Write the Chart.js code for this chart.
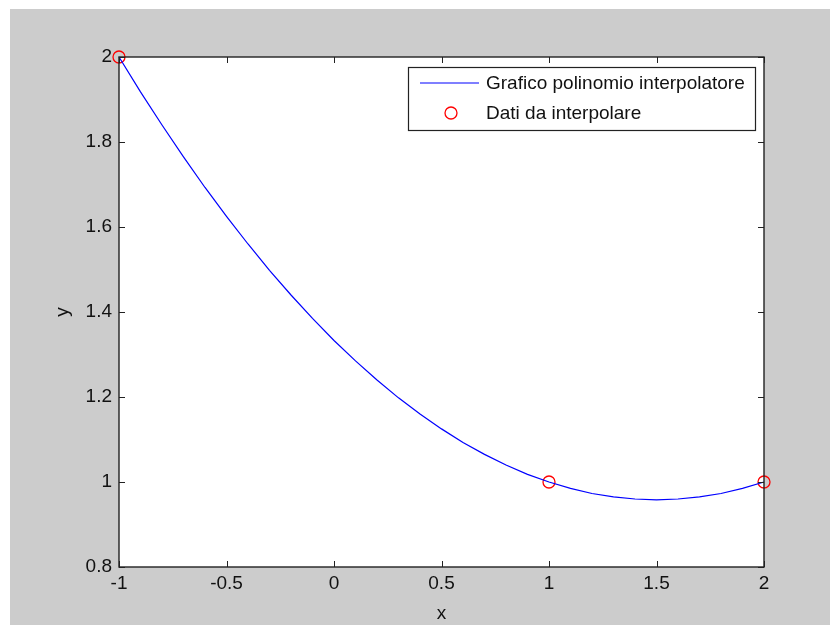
<!DOCTYPE html>
<html>
<head>
<meta charset="utf-8">
<script src="https://cdn.jsdelivr.net/npm/chart.js@4"></script>
<style>
  html, body { margin: 0; padding: 0; background: #ffffff; }
  #wrap { width: 830px; height: 625px; }
</style>
</head>
<body>
<div id="wrap"><canvas id="plot" width="830" height="625"></canvas></div>
<script>
'use strict';

// Curve of the interpolating polynomial
const curveX = [-1, -0.9, -0.8, -0.7, -0.6, -0.5, -0.4, -0.3, -0.2, -0.1, 0,
  0.1, 0.2, 0.3, 0.4, 0.5, 0.6, 0.7, 0.8, 0.9, 1,
  1.1, 1.2, 1.3, 1.4, 1.5, 1.6, 1.7, 1.8, 1.9, 2];
const curveY = [2, 1.918, 1.84, 1.765, 1.693, 1.625, 1.56, 1.498, 1.44, 1.385, 1.333,
  1.285, 1.24, 1.198, 1.16, 1.125, 1.093, 1.065, 1.04, 1.018, 1,
  0.985, 0.973, 0.965, 0.96, 0.958, 0.96, 0.965, 0.973, 0.985, 1];

// Points to interpolate
const dataX = [-1, 1, 2];
const dataY = [2, 1, 1];

// Axis ticks
const xTicks = [-1, -0.5, 0, 0.5, 1, 1.5, 2];
const yTicks = [0.8, 1, 1.2, 1.4, 1.6, 1.8, 2];

const labels = ['Grafico polinomio interpolatore', 'Dati da interpolare'];

const fontFamily = '"Liberation Sans", Arial, Helvetica, sans-serif';
const fontSize = 19;
const textColor = '#111111';
const boxColor = '#222222';

function fmt(v) {
  return String(Number(v.toFixed(2)));
}

// gray figure background and white axes area
const backgroundPlugin = {
  id: 'background',
  beforeDraw(chart) {
    const ctx = chart.ctx;
    const a = chart.chartArea;
    ctx.save();
    ctx.fillStyle = '#cccccc';
    ctx.fillRect(10, 9, 820, 616);
    ctx.fillStyle = '#ffffff';
    ctx.fillRect(a.left, a.top, a.right - a.left, a.bottom - a.top);
    ctx.restore();
  }
};

// box round the axes and inward ticks on all four sides
const boxPlugin = {
  id: 'box',
  afterDatasetsDraw(chart) {
    const ctx = chart.ctx;
    const a = chart.chartArea;
    const xs = chart.scales.x;
    const ys = chart.scales.y;
    const len = 6;
    ctx.save();
    ctx.strokeStyle = boxColor;
    ctx.lineWidth = 1;
    ctx.beginPath();
    xTicks.forEach(v => {
      const px = Math.round(xs.getPixelForValue(v)) + 0.5;
      ctx.moveTo(px, a.bottom);
      ctx.lineTo(px, a.bottom - len);
      ctx.moveTo(px, a.top);
      ctx.lineTo(px, a.top + len);
    });
    yTicks.forEach(v => {
      const py = Math.round(ys.getPixelForValue(v)) + 0.5;
      ctx.moveTo(a.left, py);
      ctx.lineTo(a.left + len, py);
      ctx.moveTo(a.right, py);
      ctx.lineTo(a.right - len, py);
    });
    ctx.stroke();
    ctx.lineWidth = 1.4;
    ctx.strokeRect(a.left, a.top, a.right - a.left, a.bottom - a.top);
    ctx.restore();
  },
  afterDraw(chart) {
    // legend box in the upper right corner
    const ctx = chart.ctx;
    const a = chart.chartArea;
    const ds = chart.data.datasets;
    const w = 347, h = 63;
    const lx = a.right - 9 - w;
    const ly = a.top + 10;
    ctx.save();
    ctx.fillStyle = '#ffffff';
    ctx.fillRect(lx, ly, w, h);
    ctx.strokeStyle = boxColor;
    ctx.lineWidth = 1.2;
    ctx.strokeRect(lx + 0.5, ly + 0.5, w, h);

    const row1 = ly + 16, row2 = ly + 46;
    ctx.strokeStyle = ds[0].borderColor;
    ctx.lineWidth = 1.2;
    ctx.beginPath();
    ctx.moveTo(lx + 12, row1);
    ctx.lineTo(lx + 71, row1);
    ctx.stroke();

    ctx.strokeStyle = ds[1].borderColor;
    ctx.lineWidth = ds[1].borderWidth;
    ctx.beginPath();
    ctx.arc(lx + 43, row2, ds[1].pointRadius, 0, Math.PI * 2);
    ctx.stroke();

    ctx.fillStyle = textColor;
    ctx.font = fontSize + 'px ' + fontFamily;
    ctx.textBaseline = 'middle';
    ctx.fillText(ds[0].label, lx + 78, row1 + 1);
    ctx.fillText(ds[1].label, lx + 78, row2 + 1);
    ctx.restore();
  }
};

const el = document.getElementById('plot');

new Chart(el, {
  type: 'scatter',
  data: {
    datasets: [
      {
        label: labels[0],
        data: curveX.map((x, i) => ({x: x, y: curveY[i]})),
        showLine: true,
        borderColor: '#0000ff',
        borderWidth: 1.2,
        pointRadius: 0,
        tension: 0,
        clip: false
      },
      {
        label: labels[1],
        data: dataX.map((x, i) => ({x: x, y: dataY[i]})),
        showLine: false,
        borderColor: '#ff0000',
        backgroundColor: 'rgba(0,0,0,0)',
        borderWidth: 1.3,
        pointRadius: 6,
        pointHoverRadius: 6,
        clip: false
      }
    ]
  },
  options: {
    responsive: false,
    animation: false,
    events: [],
    layout: {padding: {left: 0, top: 57, right: 66, bottom: 0}},
    plugins: {
      legend: {display: false},
      tooltip: {enabled: false}
    },
    scales: {
      x: {
        type: 'linear',
        min: -1,
        max: 2,
        afterBuildTicks: s => { s.ticks = xTicks.map(v => ({value: v})); },
        afterFit: s => { s.height = 58; },
        grid: {display: false, drawTicks: false},
        border: {display: false},
        ticks: {
          padding: 5,
          color: textColor,
          font: {family: fontFamily, size: fontSize},
          maxRotation: 0,
          callback: v => fmt(v)
        },
        title: {
          display: true,
          text: 'x',
          color: textColor,
          font: {family: fontFamily, size: fontSize},
          padding: {top: 14, bottom: 0}
        }
      },
      y: {
        type: 'linear',
        min: 0.8,
        max: 2,
        afterBuildTicks: s => { s.ticks = yTicks.map(v => ({value: v})); },
        afterFit: s => { s.width = 119; },
        grid: {display: false, drawTicks: false},
        border: {display: false},
        ticks: {
          padding: 7,
          color: textColor,
          font: {family: fontFamily, size: fontSize},
          callback: v => fmt(v)
        },
        title: {
          display: true,
          text: 'y',
          color: textColor,
          font: {family: fontFamily, size: fontSize},
          padding: {top: 51, bottom: 0}
        }
      }
    }
  },
  plugins: [backgroundPlugin, boxPlugin]
});
</script>
</body>
</html>
